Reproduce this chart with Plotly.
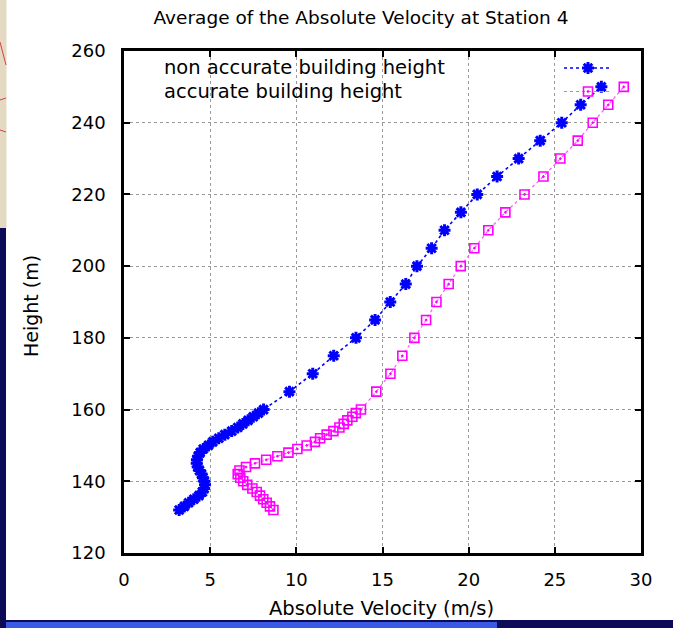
import plotly.graph_objects as go

# Height levels (m) and absolute velocity averages (m/s) at Station 4
heights_dense = list(range(132, 161))
heights_upper = [165, 170, 175, 180, 185, 190, 195, 200, 205, 210,
                 215, 220, 225, 230, 235, 240, 245, 250]

vel_nonacc_dense = [3.2, 3.5, 3.75, 4.05, 4.35, 4.55, 4.65, 4.7, 4.67, 4.58,
                    4.5, 4.38, 4.28, 4.22, 4.23, 4.3, 4.42, 4.6, 4.9, 5.15,
                    5.5, 5.85, 6.25, 6.6, 6.9, 7.2, 7.5, 7.8, 8.1]
vel_nonacc_upper = [9.6, 10.95, 12.17, 13.46, 14.57, 15.45, 16.35, 17.0, 17.85,
                    18.6, 19.55, 20.5, 21.65, 22.9, 24.15, 25.4, 26.5, 27.7]

vel_acc_dense = [8.67, 8.47, 8.28, 8.08, 7.89, 7.7, 7.45, 7.15, 6.92, 6.75,
                 6.6, 6.7, 7.08, 7.6, 8.25, 8.9, 9.54, 10.06, 10.6, 11.08,
                 11.38, 11.76, 12.15, 12.5, 12.75, 12.96, 13.25, 13.45, 13.75]
vel_acc_upper = [14.64, 15.46, 16.15, 16.85, 17.53, 18.13, 18.84, 19.54, 20.33,
                 21.14, 22.13, 23.24, 24.34, 25.32, 26.33, 27.2, 28.1, 29.0]

series_names = ["non accurate building height", "accurate building height"]
x_ticks = [0, 5, 10, 15, 20, 25, 30]
y_ticks = [120, 140, 160, 180, 200, 220, 240, 260]

heights = heights_dense + heights_upper
vel_nonacc = vel_nonacc_dense + vel_nonacc_upper
vel_acc = vel_acc_dense + vel_acc_upper

W, H = 673, 628
ML, MR, MT, MB = 124, 32, 51, 75
PW, PH = W - ML - MR, H - MT - MB

FONT = "DejaVu Sans"
BLUE = "#0000ff"
MAGENTA = "#ff00ff"


def px_x(p):
    return (p - ML) / PW


def px_y(p):
    return (H - MB - p) / PH


blue_marker = dict(symbol="asterisk-open", size=10, color=BLUE,
                   line=dict(color=BLUE, width=3))
pink_marker = dict(symbol="square-open-dot", size=9, color=MAGENTA,
                   line=dict(color=MAGENTA, width=1.6))

fig = go.Figure()
fig.add_trace(go.Scatter(
    x=vel_nonacc, y=heights, mode="lines+markers", name=series_names[0],
    line=dict(color=BLUE, width=1.6, dash="dot"), marker=blue_marker,
    showlegend=False))
fig.add_trace(go.Scatter(
    x=vel_acc, y=heights, mode="lines+markers", name=series_names[1],
    line=dict(color="#ff55ff", width=1.2, dash="dot"), marker=pink_marker,
    showlegend=False))

# key samples drawn on an overlay axis spanning the plot area in [0, 1]
key_x_line = [px_x(564), px_x(611)]
key_x_mark = [px_x(588)]
key_rows = [px_y(68), px_y(91.5)]
for row, lc, lw, mk in [(key_rows[0], BLUE, 1.6, blue_marker),
                        (key_rows[1], "#ff55ff", 1.2, pink_marker)]:
    fig.add_trace(go.Scatter(x=key_x_line, y=[row, row], mode="lines",
                             line=dict(color=lc, width=lw, dash="dot"),
                             xaxis="x2", yaxis="y2", showlegend=False,
                             hoverinfo="skip"))
    fig.add_trace(go.Scatter(x=key_x_mark, y=[row], mode="markers",
                             marker=mk, xaxis="x2", yaxis="y2",
                             showlegend=False, hoverinfo="skip"))

axis_common = dict(
    showline=True, linecolor="black", linewidth=2.5, mirror="ticks",
    ticks="inside", ticklen=6, tickwidth=1.5, tickcolor="black",
    showgrid=True, gridcolor="#9a9a9a", gridwidth=1, griddash="dot",
    zeroline=False, tickfont=dict(family=FONT, size=18, color="black"),
)

fig.update_layout(
    width=W, height=H,
    margin=dict(l=ML, r=MR, t=MT, b=MB),
    paper_bgcolor="white", plot_bgcolor="white",
    title=dict(text="Average of the Absolute Velocity at Station 4",
               x=361 / W, xanchor="center", y=1 - 18 / H, yanchor="middle",
               font=dict(family=FONT, size=18.5, color="black")),
    xaxis=dict(range=[0, 30], tickvals=x_ticks, ticklabelstandoff=9,
               **axis_common),
    yaxis=dict(range=[120, 260], tickvals=y_ticks, ticklabelstandoff=12,
               **axis_common),
    xaxis2=dict(overlaying="x", range=[0, 1], visible=False),
    yaxis2=dict(overlaying="y", range=[0, 1], visible=False),
    showlegend=False,
)

# key text
for row, name in zip(key_rows, series_names):
    fig.add_annotation(x=px_x(162), y=row, xref="paper", yref="paper",
                       text=name, showarrow=False, xanchor="left",
                       yanchor="middle",
                       font=dict(family=FONT, size=19.5, color="black"))

# axis titles
fig.add_annotation(x=px_x(381), y=px_y(608), xref="paper", yref="paper",
                   text="Absolute Velocity (m/s)", showarrow=False,
                   xanchor="center", yanchor="middle",
                   font=dict(family=FONT, size=19.5, color="black"))
fig.add_annotation(x=px_x(31), y=px_y(306), xref="paper", yref="paper",
                   text="Height (m)", showarrow=False, textangle=-90,
                   xanchor="center", yanchor="middle",
                   font=dict(family=FONT, size=19, color="black"))

shapes = [
    # key area keeps the grid clear
    dict(type="rect", xref="paper", yref="paper", x0=0, x1=1,
         y0=px_y(103), y1=1, fillcolor="white", line_width=0, layer="between"),
    # slide background strips around the chart
    dict(type="rect", xref="paper", yref="paper", x0=px_x(0), x1=px_x(6),
         y0=px_y(628), y1=px_y(228), fillcolor="#0b0b58", line_width=0,
         layer="below"),
    dict(type="rect", xref="paper", yref="paper", x0=px_x(0), x1=px_x(6.5),
         y0=px_y(228), y1=px_y(0), fillcolor="#e4d9c2", line_width=0,
         layer="below"),
    dict(type="line", xref="paper", yref="paper", x0=px_x(0), x1=px_x(6),
         y0=px_y(42), y1=px_y(65), line=dict(color="#d84040", width=1)),
    dict(type="line", xref="paper", yref="paper", x0=px_x(0), x1=px_x(6),
         y0=px_y(100), y1=px_y(98), line=dict(color="#d84040", width=1)),
    dict(type="line", xref="paper", yref="paper", x0=px_x(0), x1=px_x(6),
         y0=px_y(130), y1=px_y(132), line=dict(color="#d84040", width=1)),
    dict(type="rect", xref="paper", yref="paper", x0=px_x(0), x1=px_x(673),
         y0=px_y(628), y1=px_y(620), fillcolor="#0b0b58", line_width=0,
         layer="below"),
    dict(type="rect", xref="paper", yref="paper", x0=px_x(6), x1=px_x(497),
         y0=px_y(628), y1=px_y(622), fillcolor="#3a5ae6", line_width=0,
         layer="below"),
]
fig.update_layout(shapes=shapes)

fig.write_html("out.html")
